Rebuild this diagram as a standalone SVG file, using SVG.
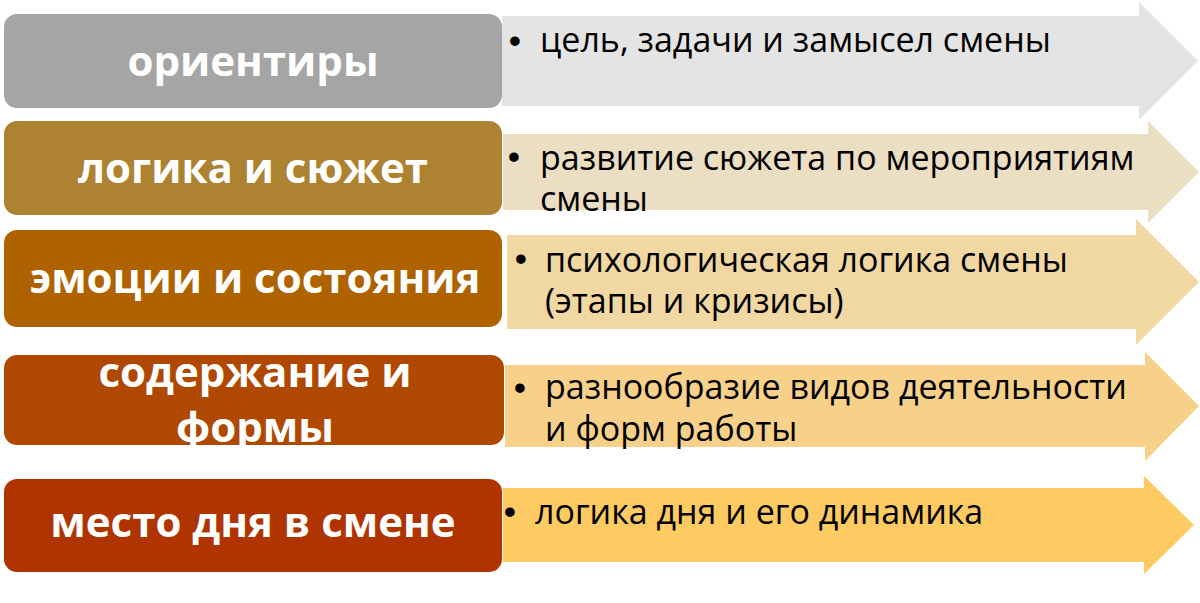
<svg xmlns="http://www.w3.org/2000/svg" width="1200" height="603" viewBox="0 0 1200 603">
<style>
.box{stroke:none}
.lbl{font-family:"Open Sans","Liberation Sans",sans-serif;font-weight:bold;font-size:42px;fill:#FFFFFF;text-anchor:middle}
.txt{font-family:"Open Sans","Liberation Sans",sans-serif;font-size:34px;fill:#000000}
.bul{font-family:"Liberation Sans",sans-serif;font-size:35px;fill:#000000;text-anchor:middle}
</style>
<rect width="1200" height="603" fill="#FFFFFF"/>
<g id="connectors">
<path id="arrow1" d="M502,16 H1139 V2 L1198,61 L1139,120 V106 H502 Z" fill="#E4E4E4"/>
<path id="arrow2" d="M503,134 H1148 V121 L1199,172 L1148,223 V210 H503 Z" fill="#EBDEC2"/>
<path id="arrow3" d="M507,235 H1136 V219 L1199,282 L1136,345 V329 H507 Z" fill="#F1D7A1"/>
<path id="arrow4" d="M505,365 H1145 V352 L1199,406 L1145,461 V447 H505 Z" fill="#F7D089"/>
<path id="arrow5" d="M503,488 H1144 V476 L1194,525 L1144,574 V562 H503 Z" fill="#FDCB62"/>
</g>
<g id="node1">
<rect class="box" x="4" y="14" width="498" height="94" rx="13" fill="#A5A5A5"/>
<text class="lbl" x="253" y="76">ориентиры</text>
<text class="bul" x="515" y="53">•</text>
<text class="txt" x="540" y="52">цель, задачи и замысел смены</text>
</g>
<g id="node2">
<rect class="box" x="4" y="121" width="498" height="94" rx="13" fill="#AD8230"/>
<text class="lbl" x="253" y="183">логика и сюжет</text>
<text class="bul" x="514" y="169">•</text>
<text class="txt" x="540" y="170">развитие сюжета по мероприятиям<tspan x="540" dy="41">смены</tspan></text>
</g>
<g id="node3">
<rect class="box" x="4" y="230" width="498" height="97" rx="13" fill="#AE6300"/>
<text class="lbl" x="255" y="293">эмоции и состояния</text>
<text class="bul" x="521" y="271">•</text>
<text class="txt" x="545" y="272">психологическая логика смены<tspan x="545" dy="41">(этапы и кризисы)</tspan></text>
</g>
<g id="node4">
<rect class="box" x="4" y="355" width="500" height="90" rx="13" fill="#AF4800"/>
<text class="lbl" x="255" y="387">содержание и<tspan x="255" dy="55">формы</tspan></text>
<text class="bul" x="520" y="400">•</text>
<text class="txt" x="545" y="399">разнообразие видов деятельности<tspan x="545" dy="42">и форм работы</tspan></text>
</g>
<g id="node5">
<rect class="box" x="4" y="479" width="498" height="93" rx="13" fill="#B03400"/>
<text class="lbl" x="253" y="537">место дня в смене</text>
<text class="bul" x="510" y="524">•</text>
<text class="txt" x="535" y="524">логика дня и его динамика</text>
</g>
</svg>
